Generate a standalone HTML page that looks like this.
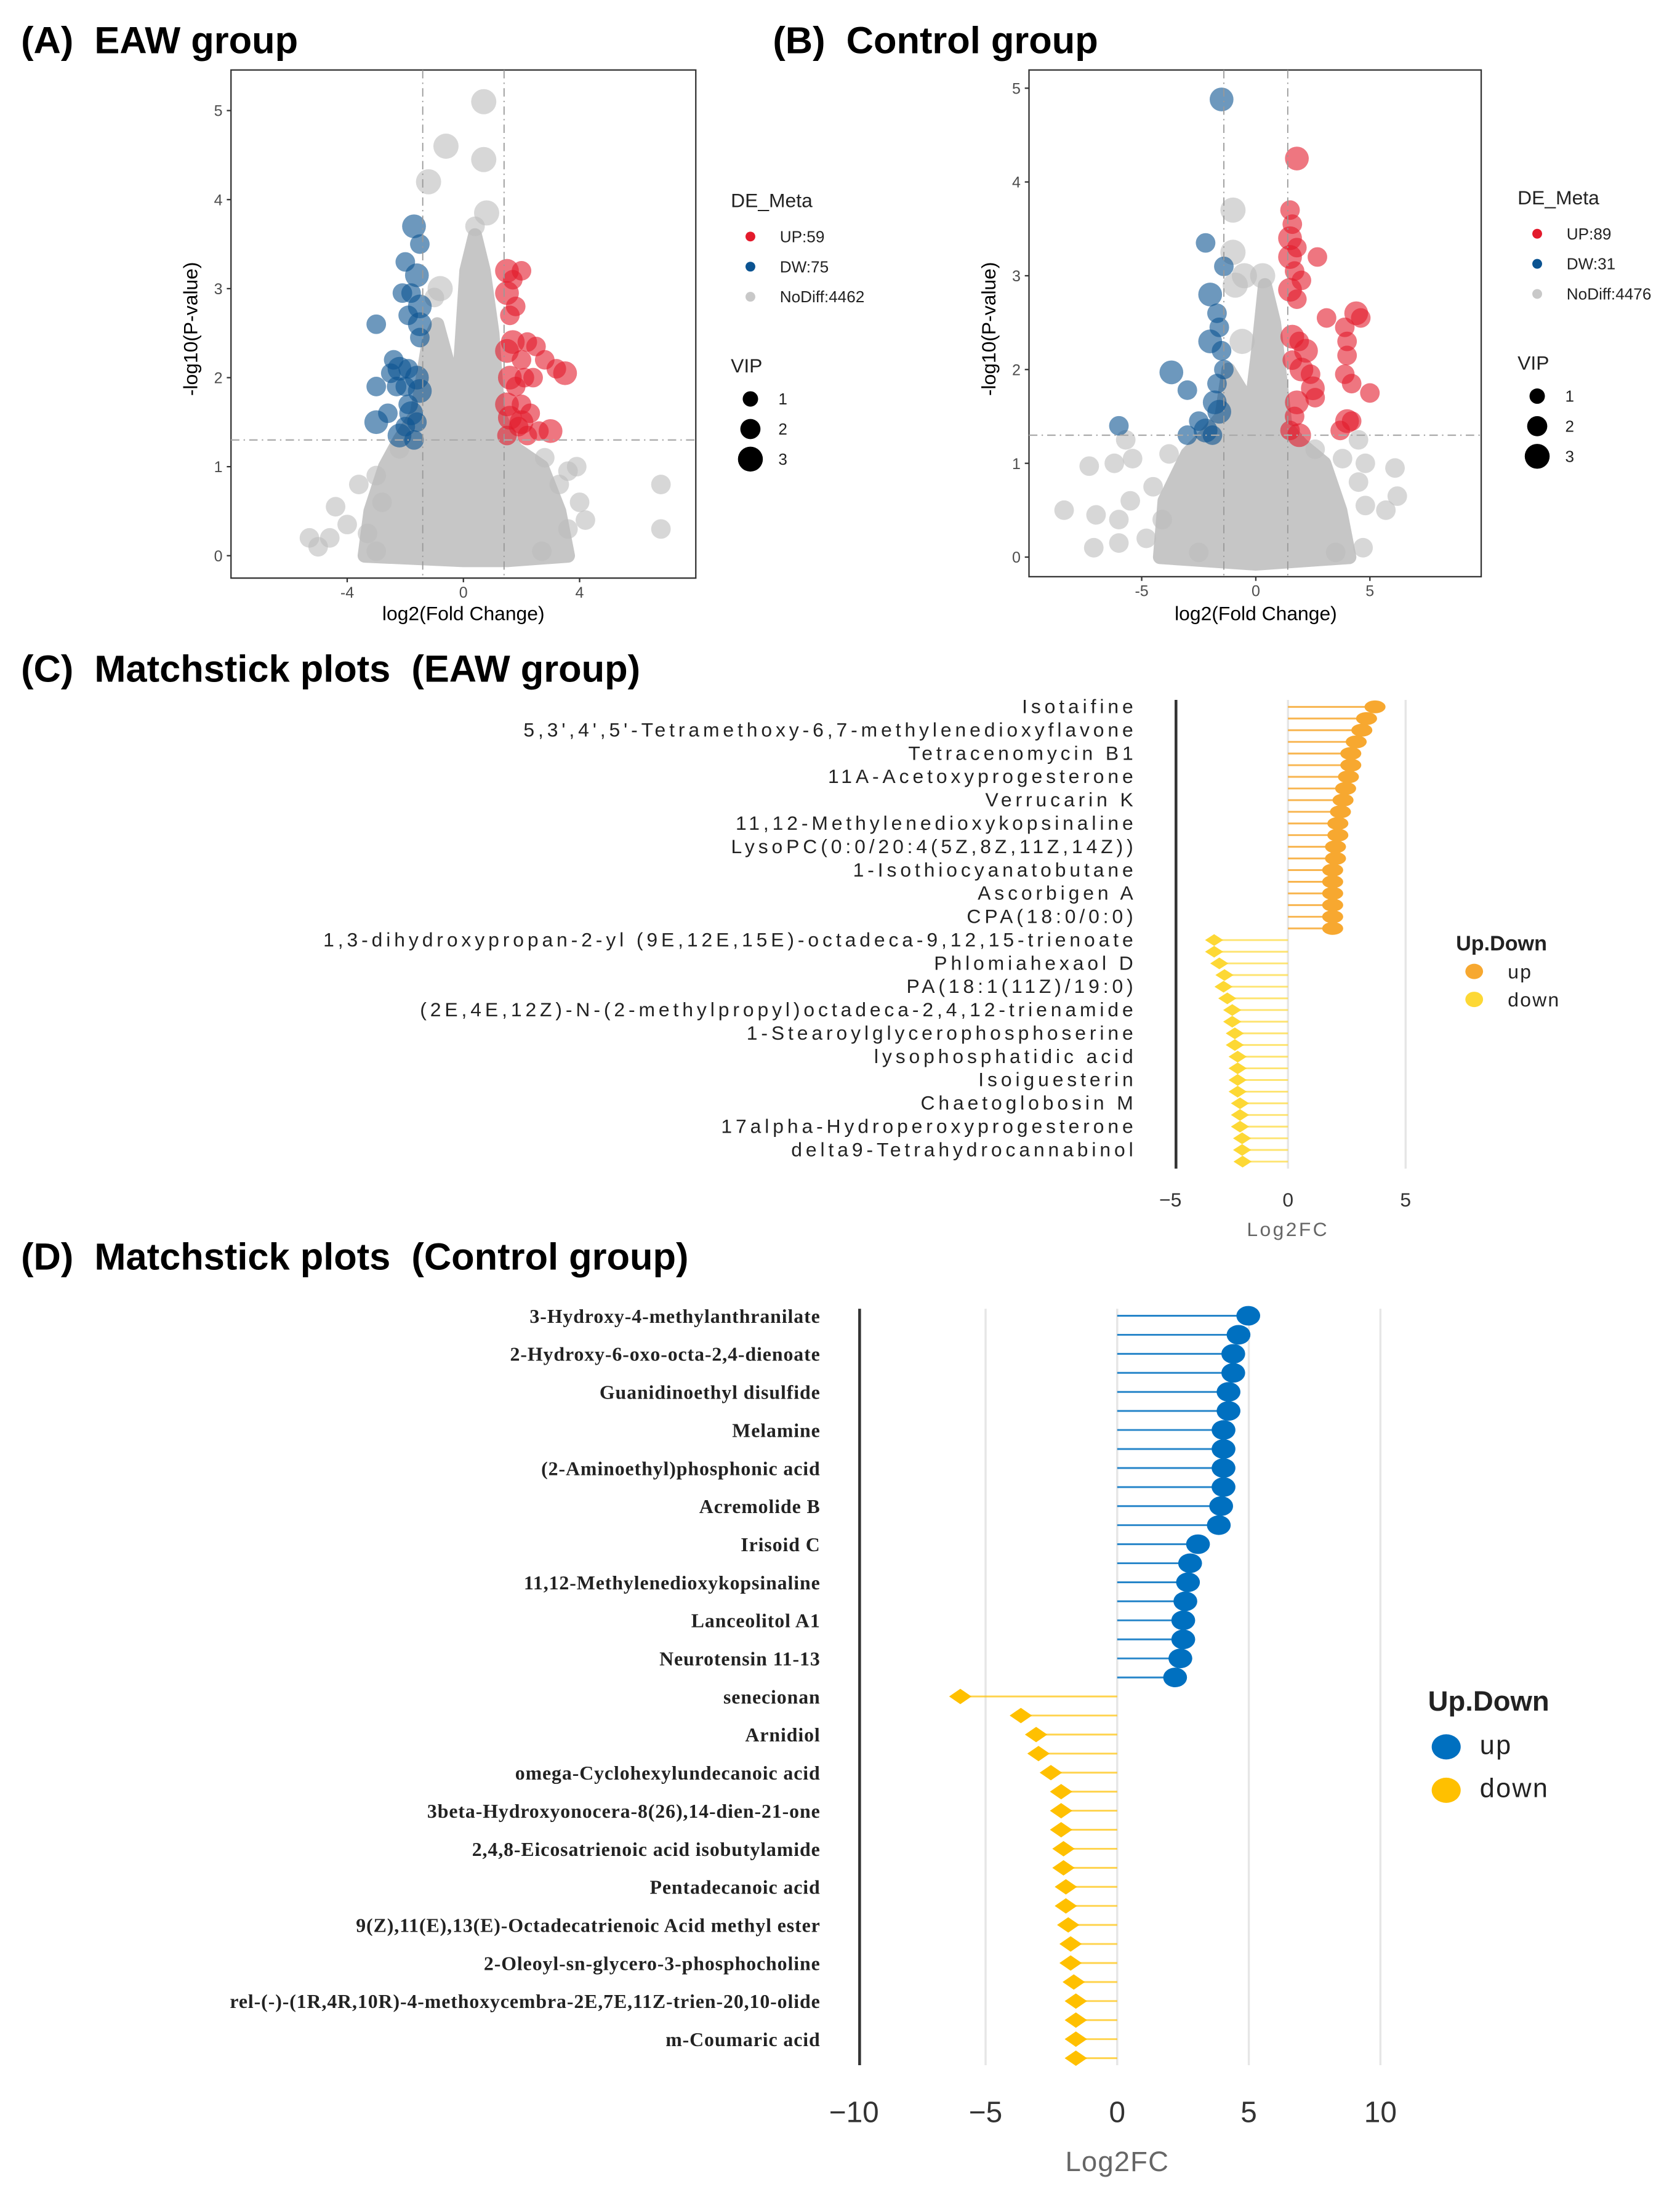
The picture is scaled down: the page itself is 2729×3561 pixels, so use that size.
<!DOCTYPE html>
<html><head><meta charset="utf-8"><style>
html,body{margin:0;padding:0;background:#fff}
svg{display:block}
text{font-family:"Liberation Sans",Arial,sans-serif}
.ttl{white-space:pre}
</style></head><body>
<svg id="fig" xmlns="http://www.w3.org/2000/svg" width="2729" height="3561" viewBox="0 0 1200 1566" preserveAspectRatio="none">
<rect x="0" y="0" width="1200" height="1566" fill="#fff"/>
<text class="ttl" x="15" y="38" font-size="27" font-weight="bold">(A)  EAW group</text>
<text class="ttl" x="552" y="38" font-size="27" font-weight="bold">(B)  Control group</text>
<text class="ttl" x="15" y="487" font-size="27" font-weight="bold">(C)  Matchstick plots  (EAW group)</text>
<text class="ttl" x="15" y="907" font-size="27" font-weight="bold">(D)  Matchstick plots  (Control group)</text>
<g id="gA"></g>
<g id="gB"></g>
<g id="gC"></g>
<g id="gD"></g>
</svg>
<script>
// ---------- Volcano A data ----------
const aBlue=[[-1.7,3.7],[-1.5,3.5],[-2.0,3.3],[-1.6,3.15],[-2.1,2.95],[-1.8,2.95],[-1.5,2.8],[-3.0,2.6],[-1.9,2.7],[-1.5,2.6],[-1.5,2.45],[-2.4,2.2],[-2.2,2.1],[-1.9,2.1],[-2.5,2.05],[-1.6,2.0],[-3.0,1.9],[-2.0,1.9],[-1.5,1.85],[-1.9,1.7],[-2.6,1.6],[-3.0,1.5],[-1.6,1.5],[-2.0,1.45],[-2.2,1.35],[-1.7,1.3],[-2.3,1.9],[-1.8,1.6]];
const aRed=[[1.5,3.2],[2.0,3.2],[1.7,3.1],[1.5,2.95],[1.8,2.8],[1.6,2.7],[1.7,2.4],[2.2,2.4],[2.5,2.35],[1.5,2.3],[2.0,2.2],[2.8,2.2],[1.6,2.0],[2.1,2.0],[3.2,2.1],[3.5,2.05],[2.4,2.0],[1.8,1.9],[1.5,1.7],[2.0,1.7],[2.3,1.6],[1.6,1.55],[1.9,1.45],[2.6,1.4],[3.0,1.4],[1.5,1.35],[2.2,1.35],[2.0,1.5]];
const aGray=[[0.7,5.1],[-0.6,4.6],[0.7,4.45],[-1.2,4.2],[0.8,3.85],[-0.8,3.0],[-1.0,2.9],[0.4,3.7],[-5.3,0.2],[-4.4,0.55],[-3.6,0.8],[-3.0,0.9],[-2.8,0.6],[-4.6,0.2],[-3.3,0.25],[6.8,0.8],[6.8,0.3],[3.9,1.0],[3.6,0.95],[4.0,0.6],[3.3,0.8],[4.2,0.4],[3.6,0.3],[2.7,0.05],[-3.0,0.05],[-2.2,1.2],[2.8,1.1],[-5.0,0.1],[-4.0,0.35]];
const aCloud=[[-3.4,0],[-3.2,0.5],[-2.7,1.0],[-2.2,1.3],[-1.6,1.6],[-1.2,2.4],[-0.9,2.6],[-0.4,2.0],[-0.1,2.2],[0.1,3.2],[0.4,3.6],[0.7,3.2],[1.0,2.5],[1.2,1.6],[1.8,1.2],[2.7,1.0],[3.3,0.5],[3.6,0],[1.5,-0.05],[0,-0.05]];
const aXTicks=[-4,0,4], aYTicks=[0,1,2,3,4,5];
const aLegend=["UP:59","DW:75","NoDiff:4462"];
// ---------- Volcano B data ----------
const bBlue=[[-1.5,4.88],[-2.2,3.35],[-1.4,3.1],[-2.0,2.8],[-1.7,2.6],[-1.6,2.45],[-2.0,2.3],[-1.5,2.2],[-1.4,2.0],[-3.7,1.97],[-1.7,1.85],[-3.0,1.78],[-1.8,1.65],[-6.0,1.4],[-2.5,1.45],[-2.2,1.35],[-3.0,1.3],[-1.9,1.3],[-1.6,1.55]];
const bRed=[[1.8,4.25],[1.5,3.7],[1.6,3.55],[1.5,3.4],[1.8,3.3],[2.7,3.2],[1.5,3.2],[1.7,3.05],[2.0,2.95],[1.5,2.85],[1.8,2.75],[3.1,2.55],[4.4,2.6],[4.6,2.55],[3.9,2.45],[1.6,2.35],[1.9,2.3],[4.0,2.3],[2.2,2.2],[1.6,2.1],[4.0,2.15],[2.0,2.0],[2.4,1.95],[3.9,1.95],[2.5,1.8],[4.2,1.85],[5.0,1.75],[1.8,1.65],[2.6,1.7],[1.7,1.5],[4.0,1.45],[4.2,1.45],[1.5,1.35],[1.9,1.3],[3.7,1.35]];
const bGray=[[-1.0,3.7],[-1.0,3.25],[-0.5,3.0],[-0.9,2.9],[-0.6,2.3],[0.3,3.0],[-7.3,0.97],[-6.2,1.0],[-5.4,1.05],[-8.4,0.5],[-7.0,0.45],[-6.0,0.4],[-5.5,0.6],[-4.5,0.75],[-7.1,0.1],[-6.0,0.15],[-4.8,0.2],[-4.1,0.4],[-3.8,1.1],[6.1,0.95],[6.2,0.65],[5.7,0.5],[4.8,0.55],[4.5,0.8],[4.8,1.0],[3.8,1.05],[4.7,0.1],[3.5,0.05],[2.6,1.15],[-5.7,1.25],[4.5,1.25],[-2.5,0.05]];
const bCloud=[[-4.2,0],[-4.0,0.6],[-3.0,1.1],[-2.2,1.3],[-1.5,1.5],[-1.2,2.0],[-0.7,1.8],[-0.2,1.6],[0.1,2.2],[0.4,2.9],[0.8,2.5],[1.3,1.4],[2.0,1.2],[3.0,1.0],[3.7,0.5],[4.1,0],[0,-0.07]];
const bXTicks=[-5,0,5], bYTicks=[0,1,2,3,4,5];
const bLegend=["UP:89","DW:31","NoDiff:4476"];
// ---------- Matchstick C data ----------
const cUp=[3.70,3.34,3.14,2.90,2.67,2.67,2.57,2.45,2.34,2.23,2.12,2.12,2.02,2.02,1.90,1.90,1.90,1.90,1.90,1.90];
const cDown=[-3.14,-3.14,-2.92,-2.70,-2.74,-2.58,-2.37,-2.37,-2.26,-2.26,-2.14,-2.14,-2.14,-2.14,-2.04,-2.04,-2.04,-1.95,-1.95,-1.93];
const cLabels=["Isotaifine","5,3',4',5'-Tetramethoxy-6,7-methylenedioxyflavone","Tetracenomycin B1","11A-Acetoxyprogesterone","Verrucarin K","11,12-Methylenedioxykopsinaline","LysoPC(0:0/20:4(5Z,8Z,11Z,14Z))","1-Isothiocyanatobutane","Ascorbigen A","CPA(18:0/0:0)","1,3-dihydroxypropan-2-yl (9E,12E,15E)-octadeca-9,12,15-trienoate","Phlomiahexaol D","PA(18:1(11Z)/19:0)","(2E,4E,12Z)-N-(2-methylpropyl)octadeca-2,4,12-trienamide","1-Stearoylglycerophosphoserine","lysophosphatidic acid","Isoiguesterin","Chaetoglobosin M","17alpha-Hydroperoxyprogesterone","delta9-Tetrahydrocannabinol"];
const cTicks=[-5,0,5];
// ---------- Matchstick D data ----------
const dUp=[4.98,4.61,4.41,4.41,4.23,4.23,4.04,4.04,4.04,4.04,3.95,3.86,3.07,2.77,2.69,2.59,2.51,2.51,2.40,2.20];
const dDown=[-5.96,-3.66,-3.08,-2.99,-2.52,-2.13,-2.13,-2.13,-2.04,-2.04,-1.95,-1.95,-1.86,-1.77,-1.77,-1.65,-1.57,-1.57,-1.57,-1.57];
const dLabels=["3-Hydroxy-4-methylanthranilate","2-Hydroxy-6-oxo-octa-2,4-dienoate","Guanidinoethyl disulfide","Melamine","(2-Aminoethyl)phosphonic acid","Acremolide B","Irisoid C","11,12-Methylenedioxykopsinaline","Lanceolitol A1","Neurotensin 11-13","senecionan","Arnidiol","omega-Cyclohexylundecanoic acid","3beta-Hydroxyonocera-8(26),14-dien-21-one","2,4,8-Eicosatrienoic acid isobutylamide","Pentadecanoic acid","9(Z),11(E),13(E)-Octadecatrienoic Acid methyl ester","2-Oleoyl-sn-glycero-3-phosphocholine","rel-(-)-(1R,4R,10R)-4-methoxycembra-2E,7E,11Z-trien-20,10-olide","m-Coumaric acid"];
const dTicks=[-10,-5,0,5,10];

const NS="http://www.w3.org/2000/svg";
function mk(parent,tag,attrs,txt){const e=document.createElementNS(NS,tag);for(const k in attrs)e.setAttribute(k,attrs[k]);if(txt!==undefined)e.textContent=txt;parent.appendChild(e);return e;}

function volcano(g,cfg){
  const sx=v=>cfg.x0+v*cfg.kx, sy=v=>cfg.y0-v*cfg.ky;
  const box=mk(g,'rect',{x:cfg.bx,y:cfg.by,width:cfg.bw,height:cfg.bh,fill:'#fff',stroke:'#333','stroke-width':1});
  
  
  const cl=mk(g,'polygon',{points:cfg.cloud.map(p=>sx(p[0])+','+sy(p[1])).join(' '),fill:'#c6c6c6',stroke:'#c6c6c6','stroke-width':10,'stroke-linejoin':'round'});
  
  
  cfg.gray.forEach((p,i)=>{const c=mk(g,'circle',{cx:sx(p[0]),cy:sy(p[1]),r:i<6?9:7,fill:'#bdbdbd','fill-opacity':0.6});
    
    });
  cfg.blue.forEach((p,i)=>{const c=mk(g,'circle',{cx:sx(p[0]),cy:sy(p[1]),r:i%3==0?8.5:7,fill:'#0b5391','fill-opacity':0.6});
    
    });
  cfg.red.forEach((p,i)=>{const c=mk(g,'circle',{cx:sx(p[0]),cy:sy(p[1]),r:i%3==0?8.5:7,fill:'#e31a2c','fill-opacity':0.6});
    
    });
  [-cfg.fc,cfg.fc].forEach(v=>{const l=mk(g,'line',{x1:sx(v),x2:sx(v),y1:cfg.by,y2:cfg.by+cfg.bh,stroke:'#999','stroke-dasharray':'6 3 1 3','stroke-width':0.8});
    
    });
  const h=mk(g,'line',{x1:cfg.bx,x2:cfg.bx+cfg.bw,y1:sy(1.3),y2:sy(1.3),stroke:'#aaa','stroke-dasharray':'6 3 1 3','stroke-width':1});
  
  
  cfg.yt.forEach(v=>{mk(g,'line',{x1:cfg.bx-3,x2:cfg.bx,y1:sy(v),y2:sy(v),stroke:'#333'});
    const t=mk(g,'text',{x:cfg.bx-6,y:sy(v)+4,'font-size':11,fill:'#4d4d4d','text-anchor':'end'},v);
    
    });
  cfg.xt.forEach(v=>{mk(g,'line',{x1:sx(v),x2:sx(v),y1:cfg.by+cfg.bh,y2:cfg.by+cfg.bh+3,stroke:'#333'});
    const t=mk(g,'text',{x:sx(v),y:cfg.by+cfg.bh+14,'font-size':11,fill:'#4d4d4d','text-anchor':'middle'},v);
    
    });
  const xt=mk(g,'text',{x:sx(0),y:443,'font-size':14,'text-anchor':'middle'},'log2(Fold Change)');
  
  
  const yt=mk(g,'text',{x:0,y:0,'font-size':14,'text-anchor':'middle',transform:`translate(${cfg.bx-24},235) rotate(-90)`},'-log10(P-value)');
  
  
  const L=cfg.lx, T=cfg.ly;
  const lt=mk(g,'text',{x:L,y:T,'font-size':14,fill:'#222'},'DE_Meta');
  
  
  const cols=['#e31a2c','#0b5391','#c8c8c8'];
  cfg.legend.forEach((s,i)=>{const y=T+25+i*21.5;
    mk(g,'circle',{cx:L+14,cy:y-4,r:3.5,fill:cols[i]});
    const t=mk(g,'text',{x:L+35,y:y,'font-size':11.5,fill:'#222'},s);
    
    });
  const vt=mk(g,'text',{x:L,y:T+118,'font-size':14,fill:'#222'},'VIP');
  
  
  [1,2,3].forEach((v,i)=>{const y=T+137+i*21.5;
    mk(g,'circle',{cx:L+14,cy:y,r:5.5+i*1.7,fill:'#000'});
    const t=mk(g,'text',{x:L+34,y:y+4,'font-size':11.5,fill:'#222'},v);
    
    });
}
volcano(document.getElementById('gA'),{x0:331,kx:20.75,y0:397,ky:63.6,bx:165,by:50,bw:332,bh:363,fc:1.4,cloud:aCloud,gray:aGray,blue:aBlue,red:aRed,xt:aXTicks,yt:aYTicks,legend:aLegend,lx:522,ly:148});
volcano(document.getElementById('gB'),{x0:897,kx:16.3,y0:398,ky:67,bx:735,by:50,bw:323,bh:362,fc:1.4,cloud:bCloud,gray:bGray,blue:bBlue,red:bRed,xt:bXTicks,yt:bYTicks,legend:bLegend,lx:1084,ly:146});

function match(g,cfg){
  const sx=v=>cfg.x0+v*cfg.kx, sy=i=>cfg.r0+i*cfg.dr;
  cfg.grid.forEach(v=>{const l=mk(g,'line',{x1:sx(v),x2:sx(v),y1:cfg.r0-5,y2:sy(39)+5,stroke:'#e6e6e6','stroke-width':1.5});
    
    });
  const ax=mk(g,'line',{x1:cfg.axX,x2:cfg.axX,y1:cfg.r0-5,y2:sy(39)+5,stroke:'#333','stroke-width':2});
  
  
  const vals=cfg.up.concat(cfg.down);
  vals.forEach((v,i)=>{const y=sy(i),up=i<cfg.up.length,col=up?cfg.cu:cfg.cd;
    const l=mk(g,'line',{x1:sx(0),x2:sx(v),y1:y,y2:y,stroke:col,'stroke-width':1.3,'stroke-opacity':up?0.85:0.7});
    
    
    let m;
    if(up){m=mk(g,'ellipse',{cx:sx(v),cy:y,rx:cfg.rx,ry:cfg.ry,fill:col});}
    else{const x=sx(v);m=mk(g,'polygon',{points:`${x-cfg.dx},${y} ${x},${y-cfg.dy} ${x+cfg.dx},${y} ${x},${y+cfg.dy}`,fill:col});}
    
  });
  cfg.labels.forEach((s,k)=>{const t=mk(g,'text',{x:cfg.lx,y:sy(k*2)+cfg.lo,'text-anchor':'end',style:cfg.lstyle},s);
    
    });
  cfg.ticks.forEach(v=>{const t=mk(g,'text',{x:sx(v),y:cfg.ty,'font-size':cfg.tfs,fill:'#333','text-anchor':'middle'},v<0?'\u2212'+(-v):v);
    
    });
  const xt=mk(g,'text',{x:sx(0),y:cfg.xty,'font-size':cfg.xtfs,fill:'#666','text-anchor':'middle','letter-spacing':cfg.xtls},'Log2FC');
  
  
  const lt=mk(g,'text',{x:cfg.legx,y:cfg.legy,'font-size':cfg.legfs,'font-weight':'bold',fill:'#222'},'Up.Down');
  
  
  [['up',cfg.cu],['down',cfg.cd]].forEach((e,i)=>{const y=cfg.legy+cfg.legd*(i+1);
    mk(g,'ellipse',{cx:cfg.legx+13,cy:y-5,rx:cfg.legr*1.15,ry:cfg.legr,fill:e[1]});
    const t=mk(g,'text',{x:cfg.legx+37,y:y,'font-size':cfg.legfs-1,fill:'#222','letter-spacing':1},e[0]);
    
    });
}
match(document.getElementById('gC'),{x0:920,kx:16.8,r0:505,dr:8.33,grid:[0,5],axX:840,up:cUp,down:cDown,cu:'#f7a830',cd:'#fdd835',rx:7.5,ry:4.6,dx:6.5,dy:4.2,
  labels:cLabels,lx:812,lo:4.5,lstyle:'font-size:14px;letter-spacing:2.6px;fill:#222;font-family:"Liberation Sans",Arial,sans-serif',ticks:cTicks,ty:862,tfs:14,xty:883,xtfs:14,xtls:1.5,
  legx:1040,legy:679,legfs:15,legd:20,legr:5.5});
match(document.getElementById('gD'),{x0:798,kx:18.8,r0:940,dr:13.6,grid:[-5,0,5,10],axX:614,up:dUp,down:dDown,cu:'#0070c0',cd:'#ffc000',rx:8.5,ry:7,dx:8,dy:5.5,
  labels:dLabels,lx:586,lo:5,lstyle:'font-size:14px;font-weight:bold;letter-spacing:0.4px;fill:#222;font-family:"Liberation Serif","Times New Roman",serif',ticks:dTicks,ty:1516,tfs:21,xty:1551,xtfs:20,xtls:0.5,
  legx:1020,legy:1222,legfs:20,legd:31,legr:9});
</script>
</body></html>
